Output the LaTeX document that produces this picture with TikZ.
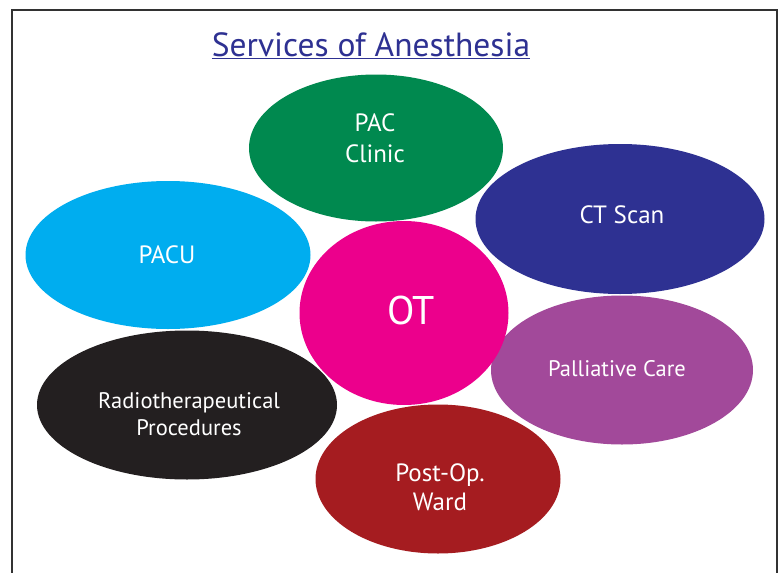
\documentclass[tikz,border=0pt]{standalone}
\usepackage{fontspec}
\setmainfont{PT Sans}
\usetikzlibrary{shapes.geometric}
\definecolor{cgreen}{RGB}{0,137,79}
\definecolor{cnavy}{RGB}{46,49,146}
\definecolor{cblue}{RGB}{0,173,239}
\definecolor{cmag}{RGB}{236,0,140}
\definecolor{cpurp}{RGB}{162,73,154}
\definecolor{cblack}{RGB}{35,31,32}
\definecolor{cred}{RGB}{165,28,32}
\definecolor{cframe}{RGB}{50,50,50}
\tikzset{
  blob/.style={ellipse, inner sep=0pt},
  lbl/.style={text=white, align=center, inner sep=0pt, font=\fontsize{25}{31}\selectfont},
  lbls/.style={text=white, align=center, inner sep=0pt, font=\fontsize{22.5}{27}\selectfont},
}
\begin{document}
\begin{tikzpicture}[x=1pt,y=-1pt]
\useasboundingbox (0,0) rectangle (780,573);
\fill[white] (0,0) rectangle (780,573);
\draw[cframe, line width=2pt] (12,573) -- (12,10) -- (777,10) -- (777,573);
\node[text=cnavy, font=\fontsize{33.5}{38}\selectfont] (title) at (371,46) {\underline{Services of Anesthesia}};
\node[blob, fill=cgreen, minimum width=254, minimum height=147] (pac) at (376,148) {};
\node[blob, fill=cnavy, minimum width=289, minimum height=150] (ct) at (620,219) {};
\node[blob, fill=cblue, minimum width=285, minimum height=148] (pacu) at (168,255) {};
\node[blob, fill=cpurp, minimum width=262, minimum height=149] (pal) at (622,370) {};
\node[blob, fill=cblack, minimum width=300, minimum height=149] (radio) at (187,405) {};
\node[blob, fill=cred, minimum width=245, minimum height=149] (post) at (438,479) {};
\node[blob, fill=cmag, minimum width=209, minimum height=184] (ot) at (404,313) {};
\node[lbl] (tpac) at (375,138) {PAC\\Clinic};
\node[lbl] (tct) at (622,215) {CT Scan};
\node[lbl] (tpacu) at (167,255) {PACU};
\node[lbl, font=\fontsize{40}{44}\selectfont] (tot) at (411,310) {OT};
\node[lbls] (tpal) at (617,369) {Palliative Care};
\node[lbls] (tradio) at (189,414) {Radiotherapeutical\\Procedures};
\node[lbl, font=\fontsize{25}{29}\selectfont] (tpost) at (440,487) {Post-Op.\\Ward};
\end{tikzpicture}
\end{document}
